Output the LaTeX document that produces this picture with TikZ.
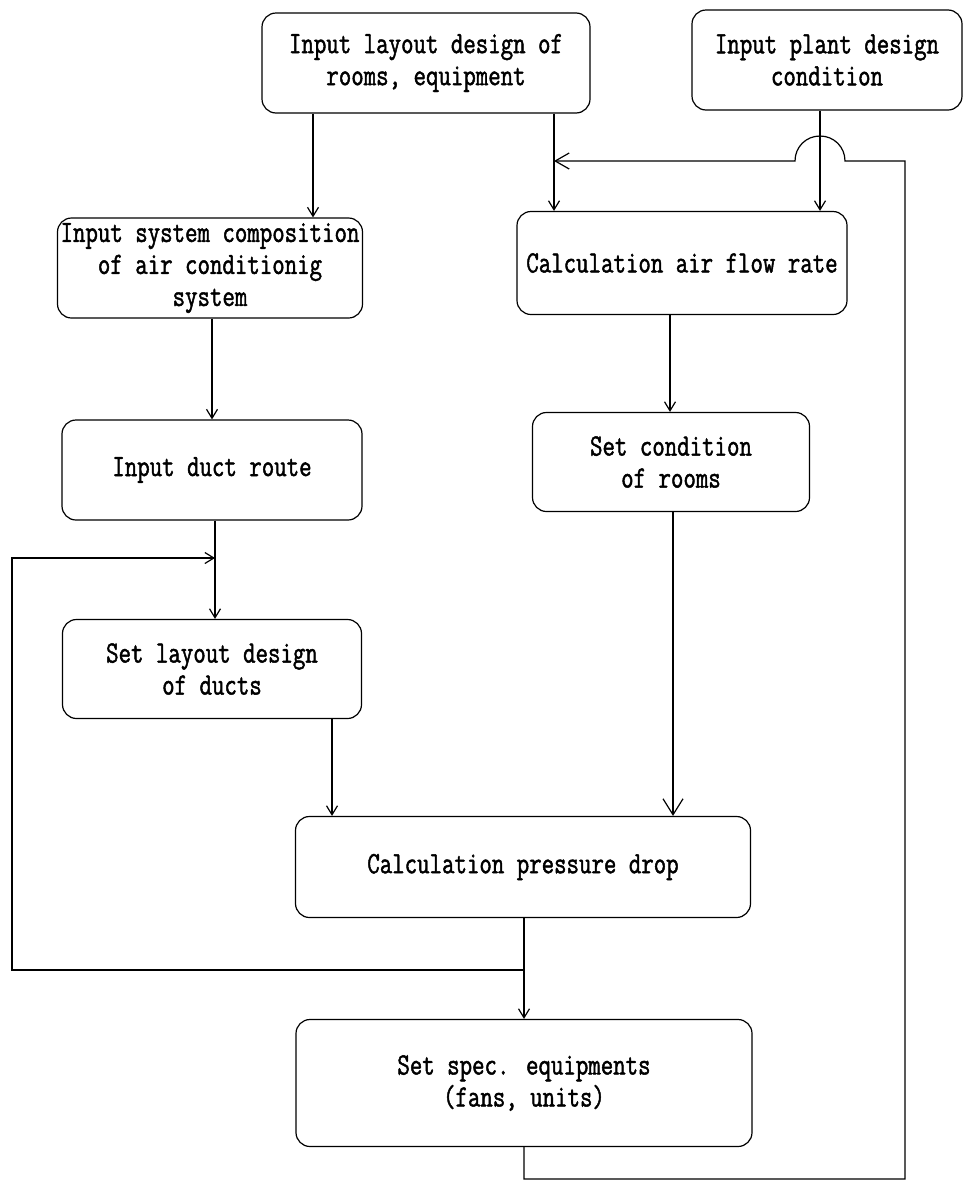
\documentclass[tikz,border=0pt]{standalone}
\usepackage{fontspec}
\setmainfont{Latin Modern Mono}[FakeStretch=0.78,FakeBold=1.5]
\usetikzlibrary{arrows.meta}
\begin{document}
\begin{tikzpicture}[x=1pt,y=-1pt,line width=1.2pt,
  box/.style={draw,rounded corners=14pt,align=center,inner sep=0pt,
    font=\fontsize{31}{32}\selectfont},
  arr/.style={-{Straight Barb[length=9pt,width=11pt,line width=1.2pt]}},
  bigarr/.style={-{Straight Barb[length=16pt,width=20pt,line width=1.2pt]}},
  wide/.style={-{Straight Barb[length=14pt,width=16pt,line width=1.2pt]}}]
\useasboundingbox (0,0) rectangle (964,1181);
% boxes
\node[box,minimum width=328pt,minimum height=100pt] (b1) at (426,63) {Input layout design of\\rooms, equipment};
\node[box,minimum width=270pt,minimum height=100pt] (b2) at (827,60) {Input plant design\\condition};
\node[box,minimum width=305pt,minimum height=100pt] (b3) at (210,268) {Input system composition\\of air conditionig\\system};
\node[box,minimum width=330pt,minimum height=103pt] (b4) at (682,263) {Calculation air flow rate};
\node[box,minimum width=300pt,minimum height=100pt] (b5) at (212,470) {Input duct route};
\node[box,minimum width=277pt,minimum height=99pt] (b6) at (671,462) {Set condition\\of rooms};
\node[box,minimum width=299pt,minimum height=99pt] (b7) at (212,669) {Set layout design\\of ducts};
\node[box,minimum width=455pt,minimum height=101pt] (b8) at (523,867) {Calculation pressure drop};
\node[box,minimum width=456pt,minimum height=127pt] (b9) at (524,1083) {Set spec. equipments\\(fans, units)};
% connector columns
\coordinate (cA) at (313,0);
\coordinate (cB) at (554,0);
\coordinate (cC) at (820,0);
\coordinate (cD) at (212,0);
\coordinate (cE) at (670,0);
\coordinate (cF) at (215,0);
\coordinate (cG) at (332,0);
\coordinate (cH) at (673,0);
\coordinate (cI) at (524,0);
% main flow
\draw[arr] (b1.south -| cA) -- (b3.north -| cA);
\draw[arr] (b1.south -| cB) -- (b4.north -| cB);
\draw[arr] (b2.south -| cC) -- (b4.north -| cC);
\draw[arr] (b3.south -| cD) -- (b5.north -| cD);
\draw[arr] (b4.south -| cE) -- (b6.north -| cE);
\draw[arr] (b5.south -| cF) -- (b7.north -| cF);
\draw[arr] (b7.south -| cG) -- (b8.north -| cG);
\draw[bigarr] (b6.south -| cH) -- (b8.north -| cH);
\draw[arr] (b8.south -| cI) -- (b9.north -| cI);
% feedback loop 1
\coordinate (j1) at (524,970);
\coordinate (fl1) at (12,970);
\coordinate (fl2) at (12,558);
\coordinate (j2) at (215,558);
\draw[arr] (j1) -- (fl1) -- (fl2) -- (j2);
% feedback loop 2 with hop
\coordinate (fr0) at (524,1179);
\coordinate (fr1) at (905,1179);
\coordinate (fr2) at (905,161);
\coordinate (hopR) at (845,161);
\coordinate (hopL) at (795,161);
\coordinate (j3) at (554,161);
\draw[wide] (b9.south -| cI) -- (fr0) -- (fr1) -- (fr2) -- (hopR)
  .. controls (845,147) and (834,136) .. (820,136)
  .. controls (806,136) and (795,147) .. (hopL) -- (j3);
\end{tikzpicture}
\end{document}
